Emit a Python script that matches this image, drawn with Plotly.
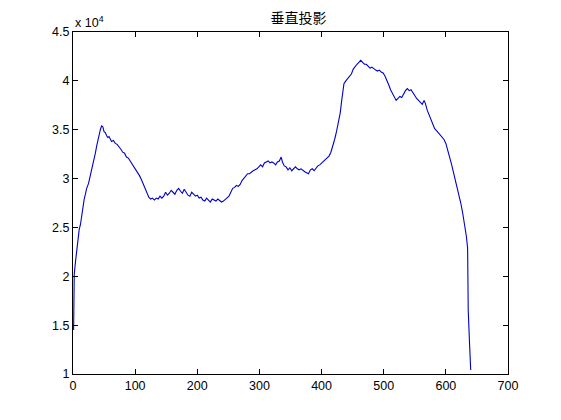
import plotly.graph_objects as go

# column index (1..640) and vertical projection sum (raw units)
x_idx = [1, 2, 4, 6, 8, 10, 12, 14, 16, 18, 20, 22, 25, 28, 30, 33, 36, 38, 40, 42, 44, 46, 48, 50,
         52, 54, 56, 58, 60, 62, 65, 68, 71, 74, 77, 80, 83, 86, 89, 92, 95, 98, 101, 104, 107, 110,
         113, 116, 119, 122, 125, 128, 131, 134, 137, 140, 143, 146, 149, 152, 155, 158, 161, 164,
         167, 170, 173, 176, 179, 182, 185, 188, 191, 194, 197, 200, 203, 206, 209, 212, 215, 218,
         221, 224, 227, 230, 233, 236, 239, 242, 245, 248, 251, 254, 257, 260, 263, 266, 269, 272,
         275, 278, 281, 284, 287, 290, 293, 296, 299, 302, 305, 308, 311, 314, 317, 320, 323, 326,
         329, 332, 335, 337, 340, 343, 346, 349, 352, 355, 358, 361, 364, 367, 370, 373, 376, 379,
         382, 385, 388, 391, 394, 397, 400, 403, 406, 409, 412, 415, 418, 421, 424, 427, 430, 432,
         434, 436, 439, 442, 445, 448, 451, 454, 457, 460, 463, 466, 469, 472, 475, 478, 481, 484,
         487, 490, 493, 496, 499, 502, 505, 508, 511, 514, 517, 520, 523, 526, 529, 532, 535, 538,
         541, 544, 547, 550, 553, 556, 559, 562, 565, 567, 570, 573, 576, 579, 582, 585, 588, 591,
         594, 597, 600, 603, 606, 609, 612, 615, 618, 621, 624, 627, 630, 633, 635, 636, 638, 640]

proj_sum = [14500, 20200, 21500, 22800, 24000, 24800, 25300, 26200, 27200, 27900, 28400, 29000,
            29500, 30300, 31000, 31600, 32600, 33300, 34000, 34700, 35000, 35400, 35300, 34800,
            34700, 34400, 34200, 34300, 34000, 33800, 33900, 33600, 33500, 33300, 33000, 32700,
            32600, 32200, 32100, 31800, 31500, 31200, 30900, 30700, 30300, 29900, 29400, 28900,
            28500, 28100, 27900, 28000, 27800, 28000, 27900, 28200, 28000, 28200, 28600, 28300,
            28500, 28800, 28600, 28400, 28800, 29000, 28700, 28500, 28900, 28600, 28300, 28200,
            28600, 28400, 28200, 28300, 28000, 28100, 27800, 27700, 28000, 27800, 27600, 27900,
            27800, 27700, 27900, 27700, 27600, 27700, 27900, 28100, 28200, 28600, 29000, 29100,
            29300, 29200, 29400, 29800, 30000, 30300, 30500, 30500, 30700, 30800, 30900, 31000,
            31200, 31400, 31200, 31600, 31700, 31800, 31600, 31700, 31600, 31400, 31700, 31800,
            32200, 31700, 31300, 31200, 30900, 31100, 30800, 31000, 31200, 31000, 30900, 31000,
            30800, 30700, 30600, 30500, 30900, 31000, 30800, 31100, 31300, 31400, 31600, 31800,
            31900, 32100, 32300, 32700, 33300, 34000, 34800, 35700, 36700, 37800, 39000, 39700,
            40000, 40200, 40500, 40700, 41200, 41500, 41700, 41900, 42100, 41900, 41700, 41700,
            41500, 41300, 41400, 41200, 41100, 41000, 41100, 40900, 40800, 40500, 40100, 39600,
            39100, 38700, 38300, 38000, 38200, 38400, 38300, 38700, 39000, 39200, 39000, 39100,
            38800, 38400, 38200, 38000, 37800, 37600, 38000, 37700, 37000, 36500, 36100, 35500,
            35100, 34900, 34700, 34500, 34300, 34000, 33600, 33000, 32200, 31500, 30700, 30100,
            29300, 28400, 27500, 26500, 25400, 24100, 22900, 16500, 13300, 10400]

x_ticks = [0, 100, 200, 300, 400, 500, 600, 700]
y_ticks = [1, 1.5, 2, 2.5, 3, 3.5, 4, 4.5]
y_tick_text = ["1", "1.5", "2", "2.5", "3", "3.5", "4", "4.5"]
scale = 1e4

fig = go.Figure()
fig.add_trace(go.Scatter(
    x=x_idx, y=[v / scale for v in proj_sum], mode="lines",
    line=dict(color="#0000c8", width=1.1), showlegend=False, hoverinfo="skip"))

tick_font = dict(family="Liberation Sans, Arial, sans-serif", size=12.5, color="black")
axis_common = dict(showgrid=False, zeroline=False, showline=True, linecolor="black",
                   linewidth=1, mirror="ticks", ticks="inside", ticklen=5,
                   tickcolor="black", tickwidth=1, tickfont=tick_font)

# the page body has an 8px default margin, so the figure sits at (8, 8)
fig.update_layout(
    width=561, height=420,
    paper_bgcolor="white", plot_bgcolor="white",
    margin=dict(l=65, r=61, t=24, b=54),
    title=dict(text="垂直投影", x=0.518, xanchor="center", y=0.975, yanchor="middle",
               font=dict(family="Noto Sans CJK SC", size=14, color="black")),
    xaxis=dict(range=[0, 700], tickvals=x_ticks, **axis_common),
    yaxis=dict(range=[1, 4.5], tickvals=y_ticks, ticktext=y_tick_text, **axis_common),
    annotations=[dict(text="x 10<sup>4</sup>", xref="paper", yref="paper", x=0, y=1.0,
                      xanchor="left", yanchor="bottom", showarrow=False,
                      font=tick_font)],
)

fig.write_html("out.html")
